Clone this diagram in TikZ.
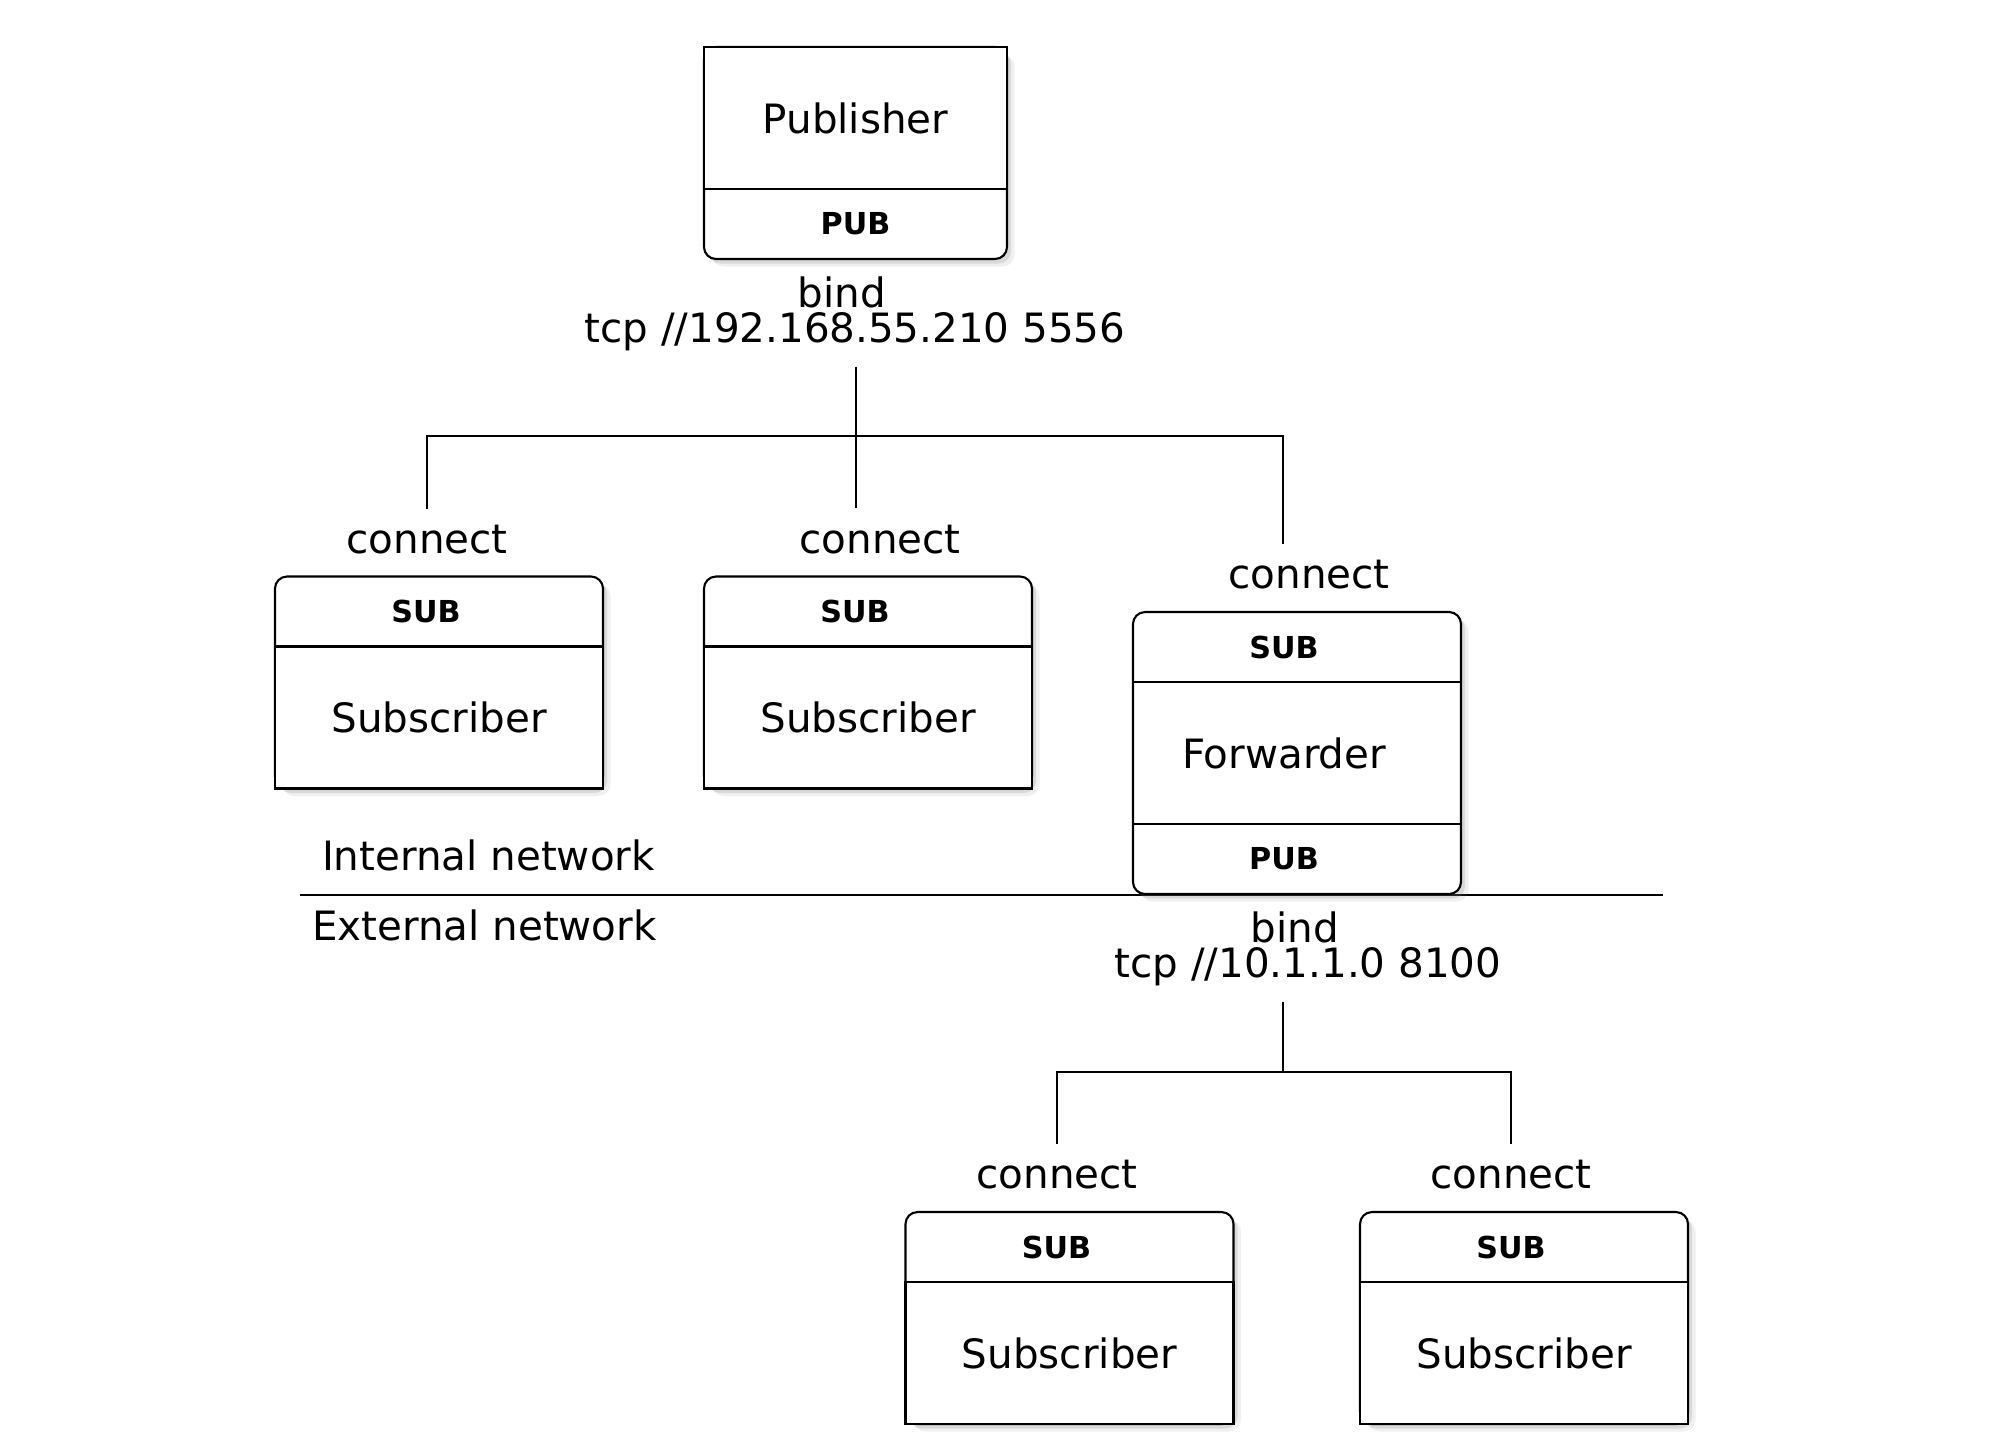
\documentclass[tikz,border=0pt]{standalone}
\usepackage{fontspec}
\setmainfont{DejaVu Sans}
\usetikzlibrary{positioning,shadows,backgrounds}

\tikzset{
  body/.style={rectangle, minimum width=3.28cm, minimum height=1.42cm, inner sep=0pt, outer sep=0pt, font=\fontsize{11.5}{13}\selectfont},
  port/.style={rectangle, minimum width=3.28cm, minimum height=0.70cm, inner sep=0pt, outer sep=0pt, font=\fontsize{8.6}{10}\selectfont\bfseries},
  lbl/.style={anchor=base, inner sep=0pt, outer sep=0pt, font=\fontsize{11.5}{13}\selectfont},
  addr/.style={anchor=north, align=center, inner sep=0pt, outer sep=0pt, font=\fontsize{11.5}{9.96}\selectfont},
  shell/.style={draw, line width=0.6pt, fill=white, rounded corners=0.12cm,
    drop shadow={shadow xshift=0.075cm, shadow yshift=-0.075cm, opacity=0.12},
    drop shadow={shadow xshift=0.04cm, shadow yshift=-0.045cm, opacity=0.2}},
  core/.style={draw, line width=0.6pt, fill=white},
  wire/.style={draw, line width=0.45pt},
}

\begin{document}
\begin{tikzpicture}
    \useasboundingbox (0,0) rectangle (20.12,-14.48);

    % Publisher
    \node[body, minimum width=3.03cm] (pub) at (8.555,-1.18) {Publisher};
    \node[port, minimum width=3.03cm, below=0pt of pub] (pubPort) {PUB};
    \node[addr] (addrA) at (8.55,-2.77) {bind\hspace*{0.26cm}\\tcp //192.168.55.210 5556};

    % Internal subscribers
    \node[body] (subA) at (4.39,-7.175) {Subscriber};
    \node[port, above=0pt of subA] (subAPort) {SUB\hspace*{0.26cm}};
    \node[body] (subB) at (8.68,-7.175) {Subscriber};
    \node[port, above=0pt of subB] (subBPort) {SUB\hspace*{0.26cm}};

    % Forwarder
    \node[body] (fwd) at (12.97,-7.53) {Forwarder\hspace*{0.26cm}};
    \node[port, above=0pt of fwd] (fwdSub) {SUB\hspace*{0.26cm}};
    \node[port, below=0pt of fwd] (fwdPub) {PUB\hspace*{0.26cm}};
    \node[addr] (addrB) at (13.08,-9.12) {bind\hspace*{0.26cm}\\tcp //10.1.1.0 8100};

    % External subscribers
    \node[body] (subC) at (10.695,-13.53) {Subscriber};
    \node[port, above=0pt of subC] (subCPort) {SUB\hspace*{0.26cm}};
    \node[body] (subD) at (15.24,-13.53) {Subscriber};
    \node[port, above=0pt of subD] (subDPort) {SUB\hspace*{0.26cm}};

    % connect labels
    \node[lbl] (conA) at (4.27,-5.53) {connect};
    \node[lbl] (conB) at (8.80,-5.53) {connect};
    \node[lbl] (conC) at (13.09,-5.88) {connect};
    \node[lbl] (conD) at (10.57,-11.88) {connect};
    \node[lbl] (conE) at (15.11,-11.88) {connect};

    % network split
    \node[lbl, anchor=base west] (intNet) at (3.22,-8.70) {Internal network};
    \node[lbl, anchor=base west] (extNet) at (3.12,-9.40) {External network};
    \coordinate (netL) at (3.00,-8.95);
    \coordinate (netR) at (16.63,-8.95);

    \coordinate (busA) at (8.56,-4.36);
    \coordinate (tapA) at (12.83,-4.36);
    \coordinate (busB) at (12.83,-10.72);

    \begin{scope}[on background layer]
        \draw[line width=0.55pt] (netL) -- (netR);
        \path[shell] (pub.north west) rectangle (pubPort.south east);
        \path[core] (pub.north west) rectangle (pub.south east);
        \path[shell] (subAPort.north west) rectangle (subA.south east);
        \path[core] (subA.north west) rectangle (subA.south east);
        \path[shell] (subBPort.north west) rectangle (subB.south east);
        \path[core] (subB.north west) rectangle (subB.south east);
        \path[shell] (fwdSub.north west) rectangle (fwdPub.south east);
        \draw[line width=0.6pt] (fwd.north west) -- (fwd.north east) (fwd.south west) -- (fwd.south east);
        \path[shell] (subCPort.north west) rectangle (subC.south east);
        \path[core] (subC.north west) rectangle (subC.south east);
        \path[shell] (subDPort.north west) rectangle (subD.south east);
        \path[core] (subD.north west) rectangle (subD.south east);
    \end{scope}

    % wiring
    \draw[wire, shorten <=0.155cm, shorten >=0.17cm] (addrA.south -| busA) -- (busA |- conB.north);
    \draw[wire, shorten <=0.16cm, shorten >=0.16cm] (conA.north) |- (tapA) -- (tapA |- conC.north);
    \draw[wire, shorten <=0.155cm] (addrB.south -| busB) -- (busB);
    \draw[wire, shorten <=0.16cm, shorten >=0.16cm] (conD.north) |- (busB) -| (conE.north);
\end{tikzpicture}
\end{document}
